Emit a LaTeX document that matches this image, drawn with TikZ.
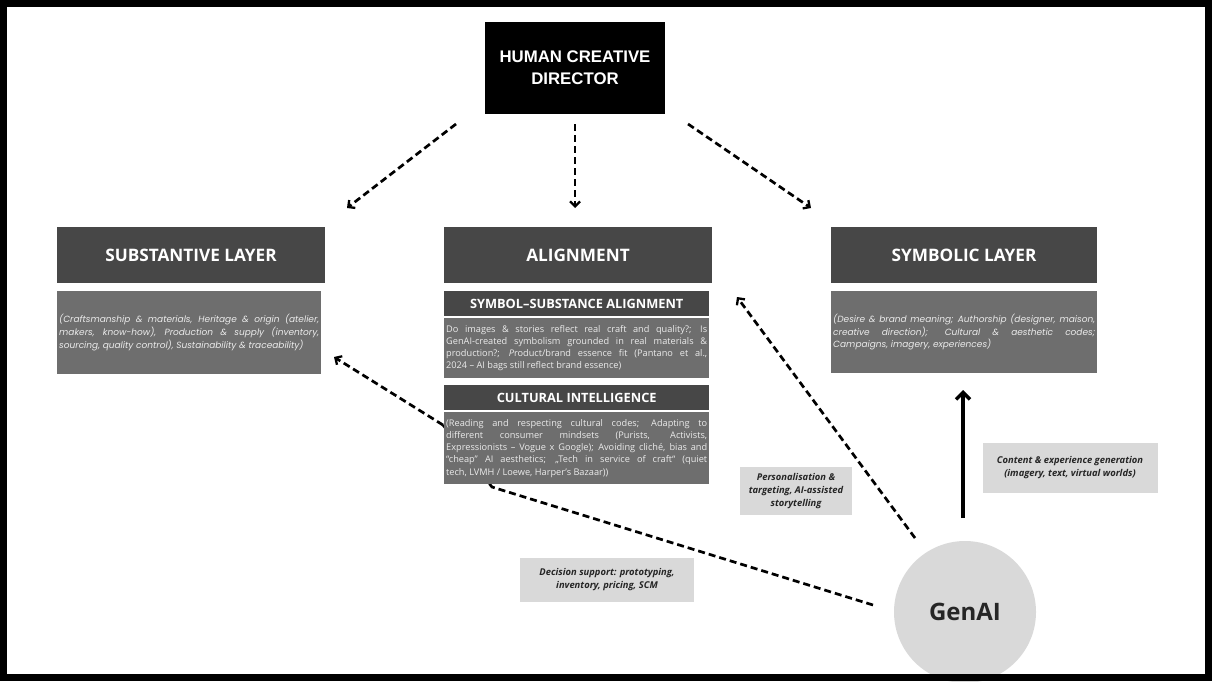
\documentclass[tikz,border=0pt]{standalone}
\usepackage{fontspec}
\setmainfont{Open Sans}
\newfontfamily\headfont{Liberation Sans}
\newfontfamily\layerfont{Poppins}
\usetikzlibrary{arrows.meta}
\definecolor{hdrgray}{HTML}{474747}
\definecolor{bodygray}{HTML}{6E6E6E}
\definecolor{notegray}{HTML}{D9D9D9}
\begin{document}
\begin{tikzpicture}[x=1pt,y=-1pt,
  hdr/.style={fill=hdrgray,text=white,font=\bfseries\fontsize{17.2}{19}\selectfont,
    minimum width=268pt,minimum height=56pt,inner sep=0pt},
  subhdr/.style={fill=hdrgray,text=white,font=\bfseries\fontsize{12.8}{15}\selectfont,
    minimum width=265pt,minimum height=25pt,inner sep=0pt},
  body/.style={fill=bodygray,text=white!92!black,align=justify,
    inner xsep=2pt,inner ysep=0pt,font=\fontsize{9.2}{12.2}\selectfont},
  layerbody/.style={body,font=\layerfont\itshape\fontsize{9}{12.7}\selectfont},
  note/.style={fill=notegray,text=black!85,align=center,inner sep=0pt,
    font=\bfseries\itshape\fontsize{9.4}{13}\selectfont},
  dasharrow/.style={line width=2.7pt,dash pattern=on 7pt off 4pt,
    -{Straight Barb[length=5pt,width=10pt,line width=2.3pt]}},
  solidarrow/.style={line width=4.8pt,
    -{Straight Barb[length=7pt,width=14pt,line width=3.5pt]}}]
\useasboundingbox (0,0) rectangle (1212,681);
\fill[white] (0,0) rectangle (1212,681);

% top node
\node[fill=black,text=white,align=center,minimum width=180pt,minimum height=92pt,
  inner sep=0pt,font=\headfont\bfseries\fontsize{16.8}{22}\selectfont] (hcd) at (575,68)
  {HUMAN CREATIVE\\DIRECTOR};

% layer headers
\node[hdr] (subst) at (191,255) {SUBSTANTIVE LAYER};
\node[hdr] (align) at (578,255) {ALIGNMENT};
\node[hdr,minimum width=266pt] (symb) at (964,255) {SYMBOLIC LAYER};

% free ends of the director's arrows
\coordinate (d1) at (456,124);
\coordinate (d2) at (575,124);
\coordinate (d3) at (688,124);
\coordinate (t1) at (347,208);
\coordinate (t2) at (575,208);
\coordinate (t3) at (811,208);
\draw[dasharrow] (d1) -- (t1);
\draw[dasharrow] (d2) -- (t2);
\draw[dasharrow] (d3) -- (t3);

% GenAI
\node[circle,fill=notegray,minimum size=142pt,inner sep=0pt,
  font=\bfseries\fontsize{24}{28}\selectfont,text=black!85] (genai) at (965,612) {GenAI};

% GenAI arrows (drawn before the boxes so they pass behind them)
\coordinate (g1) at (873,605);
\coordinate (b1) at (492,487);
\coordinate (b2) at (443,425);
\coordinate (e1) at (334,357);
\draw[line width=2.7pt,dash pattern=on 7pt off 4pt] (g1) -- (b1) -- (b2);
\draw[dasharrow] (b2) -- (e1);
\coordinate (g2) at (915,538);
\coordinate (e2) at (737,297);
\draw[dasharrow] (g2) -- (e2);
\coordinate (g3) at (963,518);
\coordinate (e3) at (963,390);
\draw[solidarrow] (g3) -- (e3);

% layer bodies
\node[layerbody,text width=260pt,minimum height=83pt,anchor=north west] (substb) at (57,291)
  {(Craftsmanship \& materials, Heritage \& origin (atelier,\linebreak makers, know-how), Production \& supply (inventory,\linebreak sourcing, quality control), Sustainability \& traceability)};
\node[layerbody,text width=262pt,minimum height=82pt,anchor=north west] (symbb) at (831,291)
  {(Desire \& brand meaning; Authorship (designer, maison,\linebreak creative direction); Cultural \& aesthetic codes;\linebreak Campaigns, imagery, experiences)};

% alignment column
\node[subhdr,anchor=north west] (ssa) at (444,291) {SYMBOL--SUBSTANCE ALIGNMENT};
\node[body,text width=261pt,minimum height=60pt,anchor=north west] (ssab) at (444,318)
  {Do images \& stories reflect real craft and quality?; Is\linebreak GenAI-created symbolism grounded in real materials \&\linebreak production?; \emph{P}roduct/brand essence fit (Pantano et al.,\linebreak 2024 -- AI bags still reflect brand essence)};
\node[subhdr,anchor=north west] (ci) at (444,385) {CULTURAL INTELLIGENCE};
\node[body,text width=261pt,minimum height=72pt,anchor=north west] (cib) at (444,412)
  {(Reading and respecting cultural codes; Adapting to\linebreak different consumer mindsets (Purists, Activists,\linebreak Expressionists -- Vogue x Google); Avoiding cliché, bias and\linebreak “cheap” AI aesthetics; „Tech in service of craft“ (quiet\linebreak tech, LVMH / Loewe, Harper’s Bazaar))};

% notes on the GenAI arrows
\node[note,minimum width=175pt,minimum height=50pt] (content) at (1070,468)
  {Content \& experience generation\\(imagery, text, virtual worlds)};
\node[note,minimum width=112pt,minimum height=48pt] (pers) at (796,491)
  {Personalisation \&\\targeting, AI-assisted\\storytelling};
\node[note,minimum width=174pt,minimum height=44pt] (dec) at (607,580)
  {Decision support: prototyping,\\inventory, pricing, SCM};

% outer frame
\draw[line width=7pt] (3.5,3.5) rectangle (1208.5,677.5);
\end{tikzpicture}
\end{document}
